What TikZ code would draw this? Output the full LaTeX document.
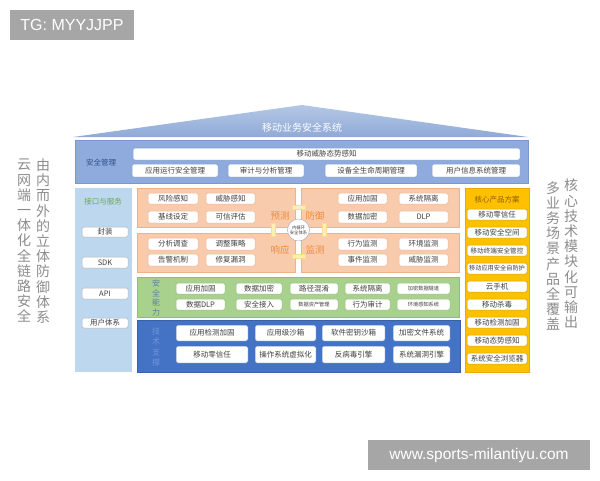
\documentclass[tikz,border=0pt]{standalone}
\usepackage{fontspec}
\setmainfont{Noto Sans CJK SC}
\newfontfamily\lsans{Liberation Sans}
\definecolor{roofT}{HTML}{B4C7E6}
\definecolor{roofB}{HTML}{8FAAD6}
\definecolor{secF}{HTML}{8FAADC}
\definecolor{secD}{HTML}{7A98CC}
\definecolor{secT}{HTML}{2F4F86}
\definecolor{leftF}{HTML}{BDD7EE}
\definecolor{leftT}{HTML}{6AA84F}
\definecolor{orF}{HTML}{F8CBAD}
\definecolor{orD}{HTML}{EFB08C}
\definecolor{orT}{HTML}{EE8A3A}
\definecolor{grF}{HTML}{A9D18E}
\definecolor{grD}{HTML}{8CBF6E}
\definecolor{grT}{HTML}{5A7F9A}
\definecolor{teF}{HTML}{4472C4}
\definecolor{teT}{HTML}{7096DA}
\definecolor{yeF}{HTML}{FFC000}
\definecolor{yeT}{HTML}{8B5E00}
\definecolor{txt}{HTML}{404040}
\definecolor{vtxt}{HTML}{8C8C8C}
\definecolor{wm}{HTML}{A6A6A6}
\definecolor{mk}{HTML}{FDF0B5}
\newcommand\mybox[7]{\node[#1, minimum width={(#5-#3)*1pt}, minimum height={(#6-#4)*1pt}] (#2) at ({(#3+#5)/2},{(#4+#6)/2}) {#7};}
\begin{document}
\begin{tikzpicture}[x=1pt,y=-1pt,
  every node/.style={inner sep=0pt, outer sep=0pt},
  band/.style={draw=#1, line width=0.6pt},
  wbox/.style={draw=#1, fill=white, rounded corners=1.5pt, line width=0.5pt, text=txt, font=\fontsize{7.5}{8}\selectfont},
  small/.style={font=\fontsize{5.2}{6}\selectfont},
  vtext/.style={align=center, text=vtxt, font=\fontsize{14}{15.2}\selectfont},
  quad/.style={text=orT, font=\fontsize{9.5}{10}\selectfont},
  marker/.style={fill=mk, draw=mk!80!orange, line width=0.3pt, minimum width=#1}]
\useasboundingbox (0,0) rectangle (600,480);
% watermark boxes
\mybox{fill=wm}{tg}{10}{10}{134}{40}{\lsans\fontsize{16}{18}\selectfont\color{white}TG: MYYJJPP}
\mybox{fill=wm}{web}{368}{440}{590}{470}{\lsans\fontsize{15.5}{18}\selectfont\color{white}www.sports-milantiyu.com}
% roof
\shade[top color=roofT, bottom color=roofB] (73,137) -- (302,105) -- (528,137) -- cycle;
\node[text=white, font=\fontsize{10}{11}\selectfont] (title) at (302,128) {移动业务安全系统};
% safety management band
\mybox{band=secD, fill=secF}{sec}{75}{140}{528}{183}{}
\node[text=secT, font=\fontsize{7.5}{8}\selectfont] (secl) at (101,163) {安全管理};
\mybox{wbox=secD}{s0}{133}{148}{520}{160}{移动威胁态势感知}
\mybox{wbox=secD}{s1}{132}{164}{218}{177}{应用运行安全管理}
\mybox{wbox=secD}{s2}{228}{164}{304}{177}{审计与分析管理}
\mybox{wbox=secD}{s3}{325}{164}{417}{177}{设备全生命周期管理}
\mybox{wbox=secD}{s4}{432}{164}{520}{177}{用户信息系统管理}
% left column
\mybox{fill=leftF}{lc}{75}{188}{132}{372}{}
\node[text=leftT, font=\fontsize{7.5}{8}\selectfont] (lct) at (103,202) {接口与服务};
\mybox{wbox=gray!60}{l1}{82}{227}{128}{237}{封装}
\mybox{wbox=gray!60}{l2}{82}{257}{128}{268}{SDK}
\mybox{wbox=gray!60}{l3}{82}{288}{128}{299}{API}
\mybox{wbox=gray!60}{l4}{82}{318}{128}{328}{用户体系}
% orange quadrants
\mybox{band=orD, fill=orF}{qtl}{137}{188}{295.5}{227}{}
\mybox{band=orD, fill=orF}{qtr}{301.5}{188}{459}{227}{}
\mybox{band=orD, fill=orF}{qbl}{137}{233}{295.5}{272}{}
\mybox{band=orD, fill=orF}{qbr}{301.5}{233}{459}{272}{}
\mybox{wbox=orD}{o1}{148}{193}{198}{204}{风险感知}
\mybox{wbox=orD}{o2}{206}{193}{255}{204}{威胁感知}
\mybox{wbox=orD}{o3}{148}{211}{198}{223}{基线设定}
\mybox{wbox=orD}{o4}{206}{211}{255}{223}{可信评估}
\mybox{wbox=orD}{o5}{148}{238}{198}{250}{分析调查}
\mybox{wbox=orD}{o6}{206}{238}{255}{250}{调整策略}
\mybox{wbox=orD}{o7}{148}{254}{198}{266}{告警机制}
\mybox{wbox=orD}{o8}{206}{254}{255}{266}{修复漏洞}
\mybox{wbox=orD}{o9}{338}{193}{387}{204}{应用加固}
\mybox{wbox=orD}{o10}{399}{193}{448}{204}{系统隔离}
\mybox{wbox=orD}{o11}{338}{211}{387}{223}{数据加密}
\mybox{wbox=orD}{o12}{399}{211}{448}{223}{DLP}
\mybox{wbox=orD}{o13}{338}{238}{387}{250}{行为监测}
\mybox{wbox=orD}{o14}{399}{238}{448}{250}{环境监测}
\mybox{wbox=orD}{o15}{338}{254}{387}{266}{事件监测}
\mybox{wbox=orD}{o16}{399}{254}{448}{266}{威胁监测}
\node[quad] (q1) at (280,216) {预测};
\node[quad] (q2) at (315,216) {防御};
\node[quad] (q3) at (280,250) {响应};
\node[quad] (q4) at (315,250) {监测};
\node[marker=13pt, minimum height=3.5pt] (m1) at (298.5,207) {};
\node[marker=13pt, minimum height=3.5pt] (m2) at (298.5,256) {};
\node[marker=3.5pt, minimum height=13pt] (m3) at (273,230) {};
\node[marker=3.5pt, minimum height=13pt] (m4) at (324,230) {};
\node[circle, draw=gray!70, fill=white, minimum size=22pt, align=center, text=txt, font=\fontsize{4.3}{5}\selectfont] (core) at (298.5,230) {内循环\\安全体系};
% green band
\mybox{band=grD, fill=grF}{gb}{137}{277}{459}{317}{}
\node[align=center, text=grT, font=\fontsize{8}{9.5}\selectfont] (gbl) at (156,298) {安\\全\\能\\力};
\mybox{wbox=grD}{g1}{176}{283}{225}{294}{应用加固}
\mybox{wbox=grD}{g2}{236}{283}{282}{294}{数据加密}
\mybox{wbox=grD}{g3}{290}{283}{338}{294}{路径混淆}
\mybox{wbox=grD}{g4}{345}{283}{390}{294}{系统隔离}
\mybox{wbox=grD, small}{g5}{397}{283}{450}{294}{加密数据隧道}
\mybox{wbox=grD}{g6}{176}{299}{225}{310}{数据DLP}
\mybox{wbox=grD}{g7}{236}{299}{282}{310}{安全接入}
\mybox{wbox=grD, small}{g8}{290}{299}{338}{310}{数据资产管理}
\mybox{wbox=grD}{g9}{345}{299}{390}{310}{行为审计}
\mybox{wbox=grD, small}{g10}{397}{299}{450}{310}{环境感知系统}
% tech band
\mybox{band=teF!85!black, fill=teF}{tb}{137}{320}{460}{372}{}
\node[align=center, text=teT, font=\fontsize{8}{10.5}\selectfont] (tbl) at (156,347) {技\\术\\支\\撑};
\mybox{wbox=teF}{t1}{176}{325}{248}{341}{应用检测加固}
\mybox{wbox=teF}{t2}{255}{325}{316}{341}{应用级沙箱}
\mybox{wbox=teF}{t3}{322}{325}{385}{341}{软件密钥沙箱}
\mybox{wbox=teF}{t4}{393}{325}{450}{341}{加密文件系统}
\mybox{wbox=teF}{t5}{176}{346}{248}{363}{移动零信任}
\mybox{wbox=teF}{t6}{255}{346}{316}{363}{操作系统虚拟化}
\mybox{wbox=teF}{t7}{322}{346}{385}{363}{反病毒引擎}
\mybox{wbox=teF}{t8}{393}{346}{450}{363}{系统漏洞引擎}
% yellow column
\mybox{band=yeF!90!black, fill=yeF}{yc}{465}{188}{529}{372}{}
\node[text=yeT, font=\fontsize{7.5}{8}\selectfont] (yct) at (497,200) {核心产品方案};
\mybox{wbox=yeF!80!black}{y1}{467}{209}{527}{220}{移动零信任}
\mybox{wbox=yeF!80!black}{y2}{467}{227}{527}{238}{移动安全空间}
\mybox{wbox=yeF!80!black, font=\fontsize{6.6}{7}\selectfont}{y3}{467}{245}{527}{256}{移动终端安全管控}
\mybox{wbox=yeF!80!black, font=\fontsize{6.2}{7}\selectfont}{y4}{467}{263}{527}{274}{移动应用安全自防护}
\mybox{wbox=yeF!80!black}{y5}{467}{281}{527}{292}{云手机}
\mybox{wbox=yeF!80!black}{y6}{467}{299}{527}{310}{移动杀毒}
\mybox{wbox=yeF!80!black}{y7}{467}{317}{527}{328}{移动检测加固}
\mybox{wbox=yeF!80!black}{y8}{467}{335}{527}{346}{移动态势感知}
\mybox{wbox=yeF!80!black}{y9}{467}{353}{527}{364}{系统安全浏览器}
% side vertical texts
\node[vtext] (vl1) at (24,241) {云\\网\\端\\一\\体\\化\\全\\链\\路\\安\\全};
\node[vtext] (vl2) at (43,241) {由\\内\\而\\外\\的\\立\\体\\防\\御\\体\\系};
\node[vtext] (vr1) at (553,256) {多\\业\\务\\场\\景\\产\\品\\全\\覆\\盖};
\node[vtext] (vr2) at (571,254) {核\\心\\技\\术\\模\\块\\化\\可\\输\\出};
\end{tikzpicture}
\end{document}
